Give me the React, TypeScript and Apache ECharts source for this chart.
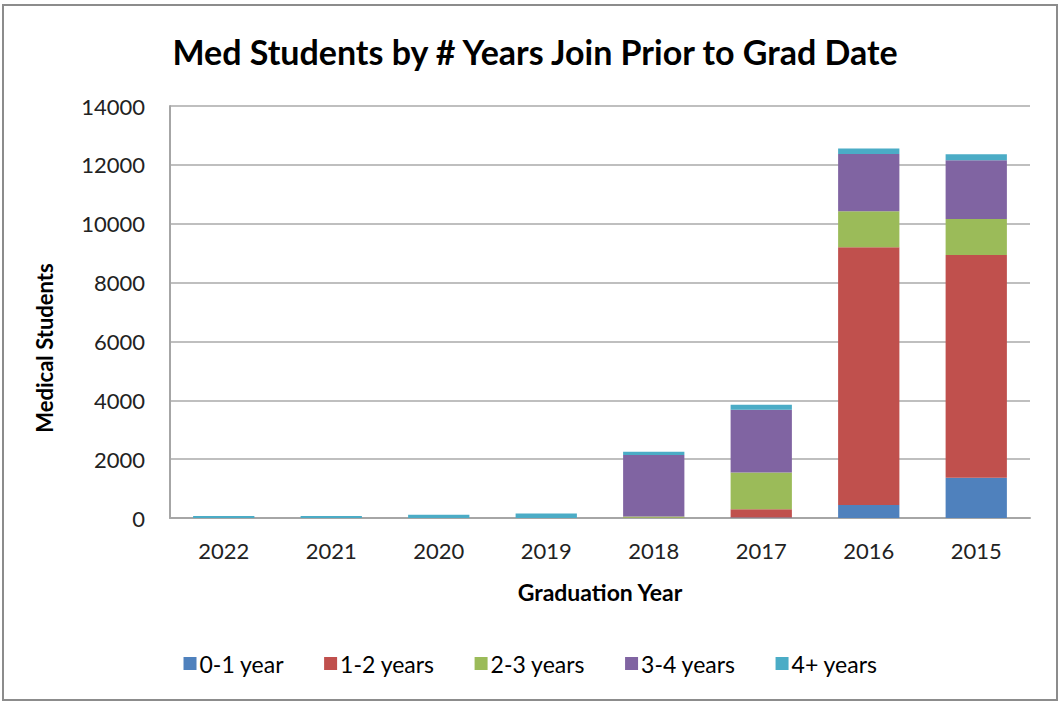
import React, { useEffect, useRef } from "react";
import * as echarts from "echarts";

const categories = ["2022", "2021", "2020", "2019", "2018", "2017", "2016", "2015"];
const seriesNames = ["0-1 year", "1-2 years", "2-3 years", "3-4 years", "4+ years"];
const yr01 = [0, 0, 0, 0, 0, 15, 440, 1370];
const yr12 = [0, 0, 0, 0, 5, 280, 8760, 7570];
const yr23 = [0, 0, 0, 0, 50, 1250, 1220, 1220];
const yr34 = [0, 0, 0, 0, 2090, 2130, 1950, 2000];
const yr4p = [70, 70, 110, 150, 110, 170, 190, 200];
const colors = ["#4F81BD", "#C0504D", "#9BBB59", "#8064A2", "#4BACC6"];

export default function App() {
  const ref = useRef<HTMLDivElement>(null);
  useEffect(() => {
    const chart = echarts.init(ref.current!, null, { renderer: "svg" });
    const data = [yr01, yr12, yr23, yr34, yr4p];
    const font = "Lato, 'Open Sans', sans-serif";
    chart.setOption({
      animation: false,
      backgroundColor: "#ffffff",
      color: colors,
      title: {
        text: "Med Students by # Years Join Prior to Grad Date",
        left: 530,
        textAlign: "center",
        top: 29,
        textStyle: { fontFamily: font, fontSize: 34, fontWeight: "bold", color: "#000" },
      },
      graphic: [
        {
          type: "rect",
          shape: { x: 3, y: 5, width: 1054, height: 695 },
          style: { fill: "none", stroke: "#8c8c8c", lineWidth: 2 },
          silent: true,
        },
        {
          type: "text",
          x: 44,
          y: 348,
          rotation: Math.PI / 2,
          style: {
            text: "Medical Students",
            fontFamily: font,
            fontSize: 22,
            fontWeight: "bold",
            fill: "#000",
            align: "center",
            verticalAlign: "middle",
          },
          silent: true,
        },
      ],
      legend: {
        bottom: 24,
        left: "center",
        itemWidth: 13,
        itemHeight: 13,
        itemGap: 40,
        icon: "rect",
        textStyle: { fontFamily: font, fontSize: 23, color: "#000", padding: [0, 0, 0, -2] },
        data: seriesNames,
      },
      grid: { left: 170, right: 31, top: 106, bottom: 186, containLabel: false },
      xAxis: {
        type: "category",
        data: categories,
        name: "Graduation Year",
        nameLocation: "middle",
        nameGap: 62,
        nameTextStyle: { fontFamily: font, fontSize: 23, fontWeight: "bold", color: "#000" },
        axisLine: { lineStyle: { color: "#a6a6a6", width: 2 } },
        axisTick: { show: false },
        axisLabel: { fontFamily: font, fontSize: 22, color: "#222", margin: 21 },
      },
      yAxis: {
        type: "value",
        min: 0,
        max: 14000,
        interval: 2000,
        axisLine: { show: true, lineStyle: { color: "#a6a6a6", width: 2 } },
        axisTick: { show: false },
        axisLabel: { fontFamily: font, fontSize: 22, color: "#222", margin: 25, formatter: (v: number) => String(v) },
        splitLine: { lineStyle: { color: "#bfbfbf", width: 2 } },
      },
      series: seriesNames.map((n, i) => ({
        name: n,
        type: "bar",
        stack: "total",
        barWidth: "57%",
        data: data[i],
        itemStyle: { color: colors[i] },
      })),
    });
    return () => chart.dispose();
  }, []);
  return (
    <div
      ref={ref}
      style={{ position: "absolute", left: 0, top: 0, width: 1061, height: 704 }}
    />
  );
}
